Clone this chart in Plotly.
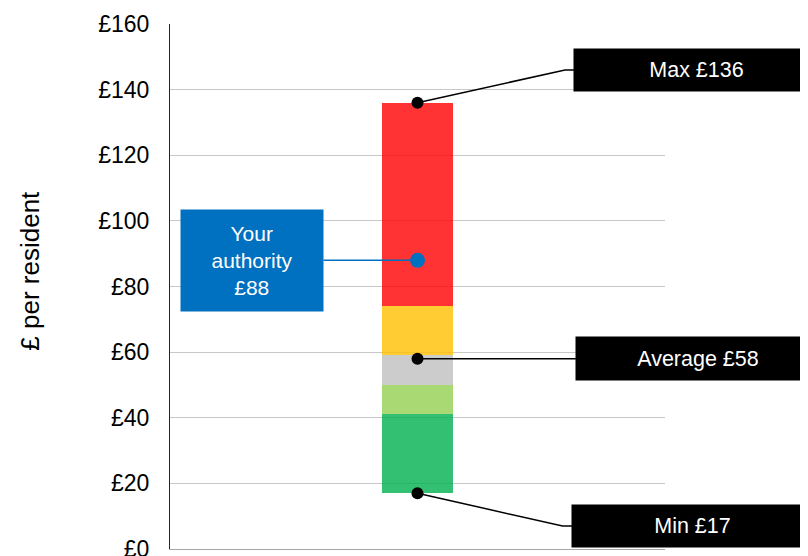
import plotly.graph_objects as go

# banded spend per resident across all authorities
band_names = ['Lowest', 'Low', 'Middle', 'High', 'Highest']
band_bottom = [17, 41, 50, 59, 74]
band_top = [41, 50, 59, 74, 136]
band_colours = ['rgba(0,176,80,0.8)', 'rgba(146,208,80,0.8)', 'rgba(191,191,191,0.8)',
                'rgba(255,192,0,0.8)', 'rgba(255,0,0,0.8)']

min_value = 17
max_value = 136
average_value = 58
your_value = 88

y_ticks = [0, 20, 40, 60, 80, 100, 120, 140, 160]
y_tick_labels = ['£' + str(v) for v in y_ticks]

BAR_X = 0.5
FONT = 'Liberation Sans, Arial, sans-serif'

fig = go.Figure()

for name, lo, hi, col in zip(band_names, band_bottom, band_top, band_colours):
    fig.add_trace(go.Bar(
        x=[BAR_X], y=[hi - lo], base=[lo], width=0.1435,
        marker={'color': col, 'line': {'width': 0}},
        name=name, showlegend=False, hoverinfo='skip'
    ))

# connectors from the bar to the label boxes
# label positions (y in data units) for the callouts
max_label_y = 146
min_label_y = 7
connectors = [
    ([BAR_X, 0.798, 0.82], [max_value, max_label_y, max_label_y]),
    ([BAR_X, 0.82], [average_value, average_value]),
    ([BAR_X, 0.793, 0.815], [min_value, min_label_y, min_label_y]),
]
for xs, ys in connectors:
    fig.add_trace(go.Scatter(
        x=xs, y=ys, mode='lines', line={'color': 'black', 'width': 1.5},
        showlegend=False, hoverinfo='skip', cliponaxis=False
    ))

fig.add_trace(go.Scatter(
    x=[0.31, BAR_X], y=[your_value, your_value], mode='lines',
    line={'color': '#0070C0', 'width': 1.5}, showlegend=False, hoverinfo='skip'
))

fig.add_trace(go.Scatter(
    x=[BAR_X] * 3, y=[max_value, average_value, min_value], mode='markers',
    marker={'color': 'black', 'size': 12}, showlegend=False, cliponaxis=False
))
fig.add_trace(go.Scatter(
    x=[BAR_X], y=[your_value], mode='markers',
    marker={'color': '#0070C0', 'size': 15}, showlegend=False
))

box_font = {'family': FONT, 'size': 21.5, 'color': 'white'}
annotations = [
    dict(x=1.0646, xref='paper', y=max_label_y, yref='y', text='Max £' + str(max_value),
         bgcolor='black', width=245, height=42),
    dict(x=1.066, xref='paper', y=average_value, yref='y', text='Average £' + str(average_value),
         bgcolor='black', width=244, height=43),
    dict(x=1.0556, xref='paper', y=min_label_y, yref='y', text='Min £' + str(min_value),
         bgcolor='black', width=241, height=42),
    dict(x=0.1657, xref='paper', y=your_value, yref='y',
         text='Your<br>authority<br>£' + str(your_value),
         bgcolor='#0070C0', width=142, height=101),
]
for a in annotations:
    a.update(showarrow=False, xanchor='center', yanchor='middle', borderpad=0,
             font=box_font)
    fig.add_annotation(**a)
fig.layout.annotations[-1].font.size = 21

fig.add_annotation(
    x=-0.283, xref='paper', y=0.53, yref='paper', text='£ per resident',
    textangle=-90, showarrow=False, xanchor='center', yanchor='middle',
    font={'family': FONT, 'size': 26, 'color': 'black'}
)

# page body has an 8px margin, so the figure is 8px smaller each way
fig.update_layout(
    width=800, height=548,
    margin={'l': 162, 'r': 143, 't': 16, 'b': 7, 'autoexpand': False},
    plot_bgcolor='white', paper_bgcolor='white',
    barmode='overlay', bargap=0,
    font={'family': FONT, 'size': 23, 'color': 'black'},
    xaxis={'range': [0, 1], 'showgrid': False, 'zeroline': False,
           'showticklabels': False, 'showline': True, 'linecolor': '#A6A6A6',
           'linewidth': 1, 'automargin': False},
    yaxis={'range': [0, 160], 'tickvals': y_ticks, 'ticktext': y_tick_labels,
           'showgrid': True, 'gridcolor': '#C8C8C8', 'gridwidth': 1,
           'zeroline': False, 'showline': True, 'linecolor': '#262626',
           'linewidth': 1, 'ticks': '', 'ticklabelstandoff': 15,
           'ticklabeloverflow': 'allow', 'automargin': False,
           'tickfont': {'family': FONT, 'size': 23, 'color': 'black'}},
)

fig.write_html('out.html')
